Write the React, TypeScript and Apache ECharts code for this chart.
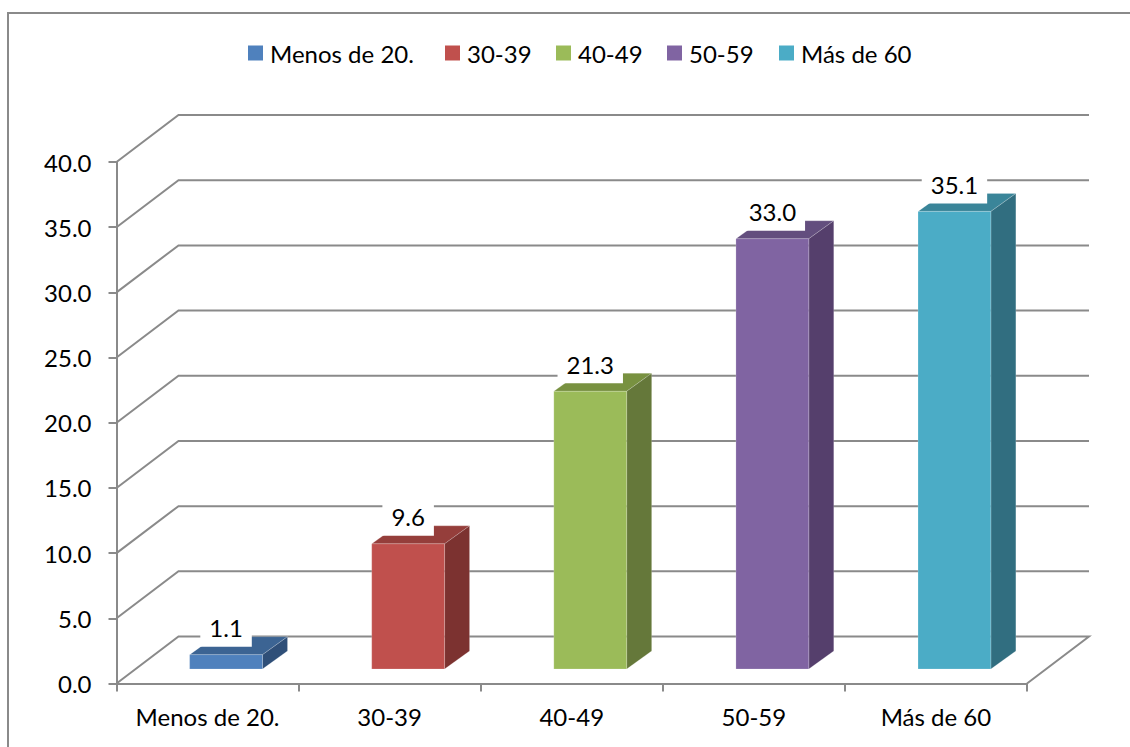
import React, { useEffect, useRef } from "react";
import * as echarts from "echarts";

const categories = ["Menos de 20.", "30-39", "40-49", "50-59", "Más de 60"];
const values = [1.1, 9.6, 21.3, 33.0, 35.1];
const wallTicks = [0, 5, 10, 15, 20, 25, 30, 35, 40];

// front, top and side shades of each column
const frontColors = ["#4F81BD", "#C0504D", "#9BBB59", "#8064A2", "#4BACC6"];
const topColors = ["#3C6493", "#953E3B", "#789140", "#634E7E", "#3A8599"];
const sideColors = ["#2F4F78", "#7C3230", "#65783A", "#553F6C", "#316E80"];

const FONT = "Lato, 'Open Sans', sans-serif";
const FONT_SIZE = 24;
const GREY = "#8A8A8A";

// left edge of each legend entry
const legendLefts = [243, 440, 551, 662, 774];

// oblique projection of the chart's depth, in pixels
const WALL_DX = 62;
const WALL_DY = -47;
const BAR_DX = 25;
const BAR_DY = -18;
const BAR_RATIO = 0.4;

const renderWalls = (params: any, api: any) => {
  const tick = api.value(0) as number;
  const band = api.size([1, 0])[0] as number;
  const start = api.coord([0, tick]);
  const end = api.coord([categories.length - 1, tick]);
  const left = start[0] - band / 2;
  const right = end[0] + band / 2;
  const y = start[1];
  const style = { stroke: GREY, lineWidth: 2, fill: "none" };
  return {
    type: "group",
    children: [
      {
        type: "polyline",
        shape: {
          points: [
            [left, y],
            [left + WALL_DX, y + WALL_DY],
            [right + WALL_DX, y + WALL_DY],
            ...(tick === 0 ? [[right, y]] : []),
          ],
        },
        style,
      },
    ],
  };
};

const makeColumn = (index: number) => (params: any, api: any) => {
  const value = api.value(1) as number;
  const band = api.size([1, 0])[0] as number;
  const width = band * BAR_RATIO;
  const base = api.coord([index, 0]);
  const top = api.coord([index, value]);
  const ox = (WALL_DX - BAR_DX) / 2;
  const oy = (WALL_DY - BAR_DY) / 2;
  const x0 = base[0] - width / 2 + ox;
  const x1 = x0 + width;
  const y0 = base[1] + oy;
  const y1 = top[1] + oy;
  const edge = { stroke: "rgba(255,255,255,0.18)", lineWidth: 1 };
  return {
    type: "group",
    children: [
      {
        type: "polygon",
        shape: {
          points: [
            [x0, y1],
            [x0 + BAR_DX, y1 + BAR_DY],
            [x1 + BAR_DX, y1 + BAR_DY],
            [x1, y1],
          ],
        },
        style: { fill: topColors[index], ...edge },
      },
      {
        type: "polygon",
        shape: {
          points: [
            [x1, y1],
            [x1 + BAR_DX, y1 + BAR_DY],
            [x1 + BAR_DX, y0 + BAR_DY],
            [x1, y0],
          ],
        },
        style: { fill: sideColors[index], ...edge },
      },
      {
        type: "rect",
        shape: { x: x0, y: y1, width, height: y0 - y1 },
        style: { fill: frontColors[index], ...edge },
      },
      {
        type: "text",
        x: (x0 + x1) / 2,
        y: y1 - 27,
        style: {
          text: value.toFixed(1),
          fontFamily: FONT,
          fontSize: FONT_SIZE,
          fill: "#000",
          align: "center",
          verticalAlign: "middle",
          backgroundColor: "#fff",
          padding: [7, 9, 7, 9],
        },
      },
    ],
  };
};

export default function App() {
  const ref = useRef<HTMLDivElement>(null);
  useEffect(() => {
    const chart = echarts.init(ref.current!, null, { renderer: "svg" });
    chart.setOption({
      animation: false,
      backgroundColor: "#fff",
      graphic: [
        {
          type: "polyline",
          shape: { points: [[8, 747], [8, 13], [1130, 13]] },
          style: { stroke: GREY, lineWidth: 2, fill: "none" },
          z: 0,
        },
      ],
      // one legend per entry so each can sit at its own position
      legend: categories.map((name, i) => ({
        data: [name],
        left: legendLefts[i],
        top: 36,
        icon: "rect",
        itemWidth: 15,
        itemHeight: 15,
        textStyle: { fontFamily: FONT, fontSize: FONT_SIZE, color: "#000", padding: [0, 0, 0, 2] },
      })),
      grid: { left: 116.5, top: 162, width: 910.5, height: 521.5 },
      xAxis: {
        type: "category",
        data: categories,
        axisLine: { show: true, lineStyle: { color: GREY, width: 2 } },
        axisTick: { show: true, length: 8, interval: 0, lineStyle: { color: GREY, width: 2 } },
        axisLabel: { fontFamily: FONT, fontSize: FONT_SIZE, color: "#000", margin: 21, interval: 0 },
        splitLine: { show: false },
      },
      yAxis: {
        type: "value",
        min: 0,
        max: 40,
        interval: 5,
        axisLine: { show: true, lineStyle: { color: GREY, width: 2 } },
        axisTick: { show: true, length: 8, lineStyle: { color: GREY, width: 2 } },
        axisLabel: {
          fontFamily: FONT,
          fontSize: FONT_SIZE,
          color: "#000",
          margin: 25,
          formatter: (v: number) => v.toFixed(1),
        },
        splitLine: { show: false },
      },
      series: [
        {
          type: "custom",
          name: "paredes",
          data: wallTicks.map((t) => [t]),
          encode: { y: 0 },
          renderItem: renderWalls,
          z: 1,
          silent: true,
          clip: false,
        },
        ...categories.map((name, i) => ({
          type: "custom",
          name,
          data: [[i, values[i]]],
          encode: { x: 0, y: 1 },
          itemStyle: { color: frontColors[i] },
          renderItem: makeColumn(i),
          z: 2 + i,
          clip: false,
        })),
      ],
    });
    return () => chart.dispose();
  }, []);
  return <div ref={ref} style={{ position: "fixed", left: 0, top: 0, width: 1130, height: 747 }} />;
}
